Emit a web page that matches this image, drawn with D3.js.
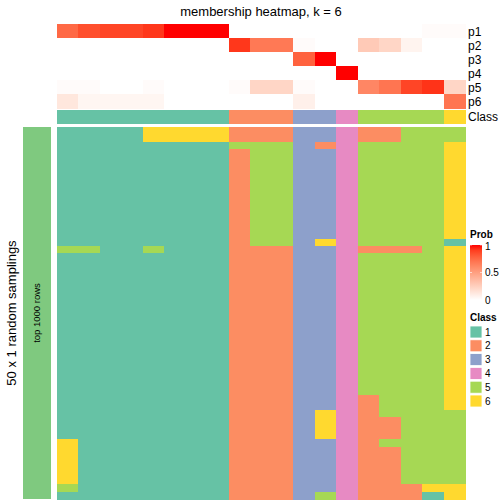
<!DOCTYPE html>
<html><head><meta charset="utf-8">
<script src="https://cdn.jsdelivr.net/npm/d3@7"></script>
<style>body{margin:0;background:#fff}svg{display:block;font-family:"Liberation Sans",Arial,sans-serif}rect.cell{shape-rendering:crispEdges}</style>
</head><body><svg id="c" width="504" height="504"></svg>
<script>
const columns = d3.range(19).map(i => "s" + (i + 1));
const probRows = ["p1","p2","p3","p4","p5","p6"];
const p1 = [0.75,0.85,0.88,0.88,0.92,1,1,1,0,0,0,0,0,0,0,0,0,0.02,0.02];
const p2 = [0,0,0,0,0,0,0,0,0.92,0.68,0.68,0.02,0,0,0.28,0.22,0.06,0,0];
const p3 = [0,0,0,0,0,0,0,0,0,0,0,0.78,1,0,0,0,0,0,0];
const p4 = [0,0,0,0,0,0,0,0,0,0,0,0,0,1,0,0,0,0,0];
const p5 = [0.02,0.02,0,0,0.02,0,0,0,0.02,0.22,0.22,0.02,0,0,0.62,0.7,0.88,0.93,0.22];
const p6 = [0.13,0.05,0.05,0.05,0.05,0,0,0,0,0,0,0.08,0,0,0,0,0,0,0.7];
const classRow = [1,1,1,1,1,1,1,1,2,2,2,3,3,4,5,5,5,5,6];
const classLabels = ["1","2","3","4","5","6"];
const classColors = ["#66C2A5","#FC8D62","#8DA0CB","#E78AC3","#A6D854","#FFD92F"];
const probTicks = [0, 0.5, 1];
// 50 random samplings: class per column
const samplings = [
"1111666622233422555","1111666622233422555","1111111155532455556",
"1111111125533455556","1111111125533455556","1111111125533455556","1111111125533455556",
"1111111125533455556","1111111125533455556","1111111125533455556","1111111125533455556",
"1111111125533455556","1111111125533455556","1111111125533455556","1111111125533455556",
"1111111125536455551","5511511122233422256",
"1111111122233455556","1111111122233455556","1111111122233455556","1111111122233455556",
"1111111122233455556","1111111122233455556","1111111122233455556","1111111122233455556",
"1111111122233455556","1111111122233455556","1111111122233455556","1111111122233455556",
"1111111122233455556","1111111122233455556","1111111122233455556","1111111122233455556",
"1111111122233455556","1111111122233455556","1111111122233455556",
"1111111122233425556","1111111122233425556",
"1111111122236425555","1111111122236422555","1111111122236422555","1111111122236422555",
"6111111122233425555",
"6111111122233422555","6111111122233422555","6111111122233422555","6111111122233422555","6111111122233422555",
"5111111122233422266","1111111122235422216"
];

const probData = [p1,p2,p3,p4,p5,p6];
const svg = d3.select("#c");
const x = d3.scaleBand().domain(columns).range([57, 465]);
const yp = d3.scaleBand().domain(probRows).range([24.3, 108.3]);
const ym = d3.scaleBand().domain(d3.range(samplings.length)).range([127, 499]);
const probColor = d3.scaleLinear().domain([0,1]).range(["#ffffff","#ff0000"]).interpolate(d3.interpolateLab);
const clsColor = d3.scaleOrdinal().domain(classLabels).range(classColors);

// title
svg.append("text").attr("x", 261).attr("y", 16).attr("text-anchor","middle")
  .attr("font-size", 13).text("membership heatmap, k = 6");

// prob rows
probRows.forEach((r, ri) => {
  svg.append("g").selectAll("rect").data(probData[ri]).join("rect").attr("class","cell")
    .attr("x", (d,i) => x(columns[i])).attr("y", yp(r))
    .attr("width", x.bandwidth() + 0.5).attr("height", yp.bandwidth() + 0.5)
    .attr("fill", d => probColor(d));
  svg.append("text").attr("x", 468).attr("y", yp(r) + yp.bandwidth()/2)
    .attr("dy", "0.36em").attr("font-size", 12).text(r);
});
// class annotation
svg.append("g").selectAll("rect").data(classRow).join("rect").attr("class","cell")
  .attr("x", (d,i) => x(columns[i])).attr("y", 110)
  .attr("width", x.bandwidth() + 0.5).attr("height", 14)
  .attr("fill", d => clsColor(String(d)));
svg.append("text").attr("x", 468).attr("y", 117).attr("dy","0.36em")
  .attr("font-size", 12).text("Class");

// main heatmap
const cells = [];
samplings.forEach((s, ri) => s.split("").forEach((c, ci) => cells.push({r: ri, c: ci, v: c})));
svg.append("g").selectAll("rect").data(cells).join("rect").attr("class","cell")
  .attr("x", d => x(columns[d.c])).attr("y", d => ym(d.r))
  .attr("width", x.bandwidth() + 0.5).attr("height", ym.bandwidth() + 0.5)
  .attr("fill", d => clsColor(d.v));

// left bar
svg.append("rect").attr("class","cell").attr("x", 23).attr("y", 127).attr("width", 28).attr("height", 372).attr("fill", "#7FC97F");
svg.append("text").attr("transform", "translate(37,313) rotate(-90)").attr("text-anchor","middle")
  .attr("dy","0.35em").attr("font-size", 9.5).text("top 1000 rows");
svg.append("text").attr("transform", "translate(11,313) rotate(-90)").attr("text-anchor","middle")
  .attr("dy","0.35em").attr("font-size", 13).text("50 x 1 random samplings");

// legend: Prob
const lg = svg.append("g");
lg.append("text").attr("x", 470).attr("y", 237.5).attr("font-size", 10).attr("font-weight","bold").text("Prob");
const defs = svg.append("defs");
const grad = defs.append("linearGradient").attr("id","pg").attr("x1",0).attr("y1",1).attr("x2",0).attr("y2",0);
d3.range(0, 1.01, 0.1).forEach(t => grad.append("stop").attr("offset", t).attr("stop-color", probColor(t)));
const yl = d3.scaleLinear().domain([0,1]).range([300, 245]);
lg.append("rect").attr("x", 470).attr("y", 245).attr("width", 12).attr("height", 55).attr("fill","url(#pg)");
probTicks.forEach(t => {
  lg.append("line").attr("x1",470).attr("x2",472).attr("y1",yl(t)).attr("y2",yl(t)).attr("stroke","#fff").attr("stroke-width",0.6);
  lg.append("line").attr("x1",480).attr("x2",482).attr("y1",yl(t)).attr("y2",yl(t)).attr("stroke","#fff").attr("stroke-width",0.6);
  lg.append("text").attr("x", 485).attr("y", yl(t) + (t === 1 ? 1 : 0)).attr("dy","0.36em").attr("font-size",10).text(t === 0 ? "0" : t === 1 ? "1" : "0.5");
});
// legend: Class
lg.append("text").attr("x", 470).attr("y", 321).attr("font-size", 10).attr("font-weight","bold").text("Class");
classLabels.forEach((c, i) => {
  const yy = 326 + i * 13.8;
  lg.append("rect").attr("x", 470).attr("y", yy).attr("width", 12).attr("height", 12)
    .attr("fill", clsColor(c)).attr("stroke","#fff").attr("stroke-width",0.8);
  lg.append("text").attr("x", 485).attr("y", yy + 6).attr("dy","0.36em").attr("font-size",10).text(c);
});
</script></body></html>
